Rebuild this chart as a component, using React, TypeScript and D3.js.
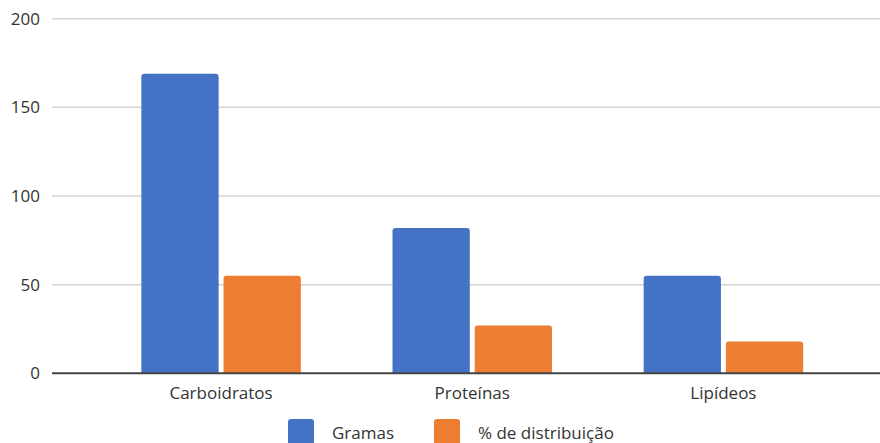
import React from "react";
import * as d3 from "d3";

const categories = ["Carboidratos", "Proteínas", "Lipídeos"];
const seriesNames = ["Gramas", "% de distribuição"];
const gramas = [169, 82, 55];
const distribuicao = [55, 27, 18];
const yTicks = [0, 50, 100, 150, 200];
const colors = ["#4472C4", "#ED7D31"];

const W = 880;
const H = 443;

function topRoundedRect(x: number, y: number, w: number, h: number, r: number) {
  const rr = Math.min(r, h, w / 2);
  return `M${x},${y + h}V${y + rr}Q${x},${y} ${x + rr},${y}H${x + w - rr}Q${x + w},${y} ${x + w},${y + rr}V${y + h}Z`;
}

export default function App() {
  const y = d3.scaleLinear().domain([0, 200]).range([373.3, 18.7]);
  const x0 = d3.scaleBand<string>().domain(categories).range([95.5, 849]).paddingInner(0.365).paddingOuter(0.1825);
  const x1 = d3.scaleBand<string>().domain(seriesNames).range([0, x0.bandwidth()]).paddingInner(0.06);
  const series = [gramas, distribuicao];
  const font = "'Open Sans', 'Noto Sans', sans-serif";

  return (
    <svg width={W} height={H} style={{ position: "absolute", left: 0, top: 0, background: "#fff" }} fontFamily={font}>
      {yTicks.map((t) => (
        <g key={t}>
          {t !== 0 && (
            <line x1={52} x2={W} y1={y(t)} y2={y(t)} stroke="#d3d3d3" strokeWidth={1.5} />
          )}
          <text x={40} y={y(t)} dy="0.35em" textAnchor="end" fontSize={17} fill="#333">
            {t}
          </text>
        </g>
      ))}
      {categories.map((c, i) => (
        <g key={c} transform={`translate(${x0(c)},0)`}>
          {series.map((s, j) => {
            const bx = x1(seriesNames[j])!;
            const by = y(s[i]);
            return (
              <path
                key={j}
                d={topRoundedRect(bx, by, x1.bandwidth(), y(0) - by, 3)}
                fill={colors[j]}
              />
            );
          })}
          <text x={x0.bandwidth() / 2} y={399} textAnchor="middle" fontSize={17} fill="#333">
            {c}
          </text>
        </g>
      ))}
      <line x1={52} x2={W} y1={y(0)} y2={y(0)} stroke="#444" strokeWidth={2} />
      <g>
        <rect x={288} y={419} width={26} height={26} rx={3} fill={colors[0]} />
        <text x={332} y={439} fontSize={17} fill="#333">{seriesNames[0]}</text>
        <rect x={434} y={419} width={26} height={26} rx={3} fill={colors[1]} />
        <text x={478} y={439} fontSize={17} fill="#333">{seriesNames[1]}</text>
      </g>
    </svg>
  );
}
